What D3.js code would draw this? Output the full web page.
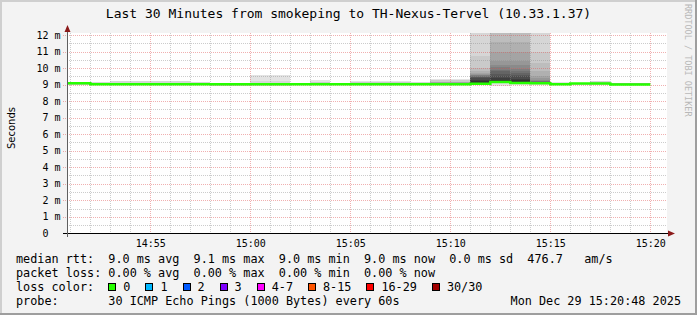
<!DOCTYPE html>
<html><head><meta charset="utf-8">
<script src="https://cdn.jsdelivr.net/npm/d3@7"></script>
<style>
html,body{margin:0;padding:0;background:#f3f3f3;}
svg{display:block;}
text{font-family:"DejaVu Sans Mono",monospace;white-space:pre;}
</style></head>
<body><svg id="c" width="697" height="315"></svg>
<script>
// ---------- data ----------
const minuteEnds = ["14:51","14:52","14:53","14:54","14:55","14:56","14:57","14:58","14:59","15:00",
  "15:01","15:02","15:03","15:04","15:05","15:06","15:07","15:08","15:09","15:10",
  "15:11","15:12","15:13","15:14","15:15","15:16","15:17","15:18","15:19","15:20"];
const medianRtt = [9.08,9.08,9.02,9.02,9.02,9.02,9.02,9.02,9.02,9.02,
  9.02,9.02,9.02,9.02,9.02,9.02,9.02,9.02,9.02,9.02,
  9.02,9.05,9.15,9.10,9.08,9.02,9.07,9.07,9.00,9.00];
const lossCount = [0,0,0,0,0,0,0,0,0,0,0,0,0,0,0,0,0,0,0,0,0,0,0,0,0,0,0,0,0,0];
// sorted ping rtts per minute (ms), as [value, count] runs (30 pings each)
const pingRuns = [
  [[8.96,3],[9.08,25],[9.1,2]],
  [[8.96,3],[9.08,25],[9.1,2]],
  [[8.99,2],[9.02,19],[9.12,7],[9.16,2]],
  [[8.99,2],[9.02,23],[9.12,3],[9.2,2]],
  [[8.99,2],[9.02,23],[9.12,3],[9.2,2]],
  [[8.99,2],[9.02,22],[9.12,4],[9.2,2]],
  [[8.99,2],[9.02,20],[9.12,6],[9.2,2]],
  [[8.99,2],[9.02,19],[9.12,7],[9.16,2]],
  [[8.9,2],[8.97,3],[9.02,25]],
  [[8.9,2],[8.97,3],[9.02,25]],
  [[8.9,1],[9.0,27],[9.2,1],[9.56,1]],
  [[8.9,1],[9.0,27],[9.2,1],[9.56,1]],
  [[8.99,2],[9.02,27],[9.08,1]],
  [[8.99,2],[9.02,25],[9.14,2],[9.26,1]],
  [[8.96,9],[9.02,21]],
  [[8.99,2],[9.02,25],[9.14,2],[9.24,1]],
  [[8.99,2],[9.02,25],[9.14,2],[9.24,1]],
  [[8.99,2],[9.02,25],[9.14,2],[9.24,1]],
  [[8.99,2],[9.02,21],[9.1,5],[9.16,2]],
  [[8.98,2],[9.02,22],[9.15,3],[9.25,2],[9.34,1]],
  [[8.98,2],[9.02,22],[9.15,3],[9.25,2],[9.34,1]],
  [[8.99,1],[9.02,12],[9.05,2],[9.2,1],[9.3,1],[9.4,1],[9.45,1],[9.47,1],[9.5,1],[9.55,1],[9.6,1],[9.65,1],[9.7,1],[9.85,1],[10.0,1],[10.7,1],[12.8,2]],
  [[8.9,1],[9.1,13],[9.15,1],[9.3,1],[9.4,1],[9.5,1],[9.65,1],[9.8,1],[9.9,1],[10.05,1],[10.2,1],[10.4,1],[11.0,1],[11.6,1],[13,4]],
  [[8.98,1],[9.05,13],[9.1,1],[9.25,1],[9.35,1],[9.5,1],[9.6,1],[9.7,1],[9.8,1],[9.95,1],[10.2,1],[10.4,1],[11.0,1],[11.6,1],[13,4]],
  [[8.98,1],[9.05,13],[9.08,1],[9.15,5],[9.2,2],[9.25,1],[9.38,1],[9.5,1],[9.8,1],[10.3,1],[11.0,1],[13,2]],
  [[8.99,2],[9.02,24],[9.1,3],[9.14,1]],
  [[8.99,2],[9.07,26],[9.1,2]],
  [[8.99,2],[9.07,24],[9.14,2],[9.2,2]],
  [[8.96,2],[9.0,22],[9.08,4],[9.12,2]],
  [[8.96,2],[9.0,22],[9.08,4],[9.12,2]]
];
const yTicks = [0,1,2,3,4,5,6,7,8,9,10,11,12];
const xTickLabels = ["14:55","15:00","15:05","15:10","15:15","15:20"];
const lossLabels = ["0","1","2","3","4-7","8-15","16-29","30/30"];
const lossColors = ["#26ff00","#00b8ff","#0059ff","#7e00ff","#ff00ff","#ff5500","#ff0000","#a10000"];
const titleText = "Last 30 Minutes from smokeping to TH-Nexus-Tervel (10.33.1.37)";
const statLines = [
  "median rtt:  9.0 ms avg  9.1 ms max  9.0 ms min  9.0 ms now  0.0 ms sd  476.7   am/s",
  "packet loss: 0.00 % avg  0.00 % max  0.00 % min  0.00 % now"
];
const probeText = "probe:       30 ICMP Echo Pings (1000 Bytes) every 60s";
const dateText = "Mon Dec 29 15:20:48 2025";
const day = "2025-12-29T";

// ---------- layout ----------
const svg = d3.select("#c");
const W = 697, H = 315;
const pl = 67, pr = 667, pt = 33, pb = 233.3;
const parse = s => new Date(day + s + ":00");
const t0 = new Date(day + "14:50:50"), t1 = new Date(day + "15:20:50");
const x = d3.scaleTime().domain([t0, t1]).range([pl, pr]);
const y = d3.scaleLinear().domain([0, 12.12]).range([pb, pt]);

// background + border
svg.append("rect").attr("width", W).attr("height", H).attr("fill", "#f3f3f3");
svg.append("rect").attr("x",0).attr("y",0).attr("width",W).attr("height",2).attr("fill","#cfcfcf");
svg.append("rect").attr("x",0).attr("y",0).attr("width",2).attr("height",H).attr("fill","#cfcfcf");
svg.append("rect").attr("x",W-2).attr("y",0).attr("width",2).attr("height",H).attr("fill","#9e9e9e");
svg.append("rect").attr("x",0).attr("y",H-2).attr("width",W).attr("height",2).attr("fill","#9e9e9e");

// canvas
svg.append("rect").attr("x", pl).attr("y", pt).attr("width", pr - pl).attr("height", pb - pt).attr("fill", "#fff");
svg.append("clipPath").attr("id","clip").append("rect").attr("x", pl).attr("y", pt).attr("width", pr-pl).attr("height", pb-pt);

// smoke
const half = 15;
const smoke = svg.append("g").attr("clip-path","url(#clip)").attr("shape-rendering","crispEdges");
pingRuns.forEach((runs, i) => {
  const pings = [];
  runs.forEach(([v, c]) => { for (let j = 0; j < c; j++) pings.push(v); });
  const te = parse(minuteEnds[i]);
  const ts = new Date(te.getTime() - 60000);
  for (let k = 1; k < half + 1; k++) {
    const lo = pings[k - 1], hi = pings[30 - k];
    if (hi <= lo) continue;
    const g = Math.floor(190 / half * (half - k)) + 50;
    smoke.append("rect")
      .attr("x", x(ts)).attr("width", x(te) - x(ts))
      .attr("y", y(hi)).attr("height", y(lo) - y(hi))
      .attr("fill", d3.rgb(g, g, g));
  }
});

// grid
const grid = svg.append("g").attr("shape-rendering","crispEdges");
const minorY = d3.range(0.5, 12.1, 1);
grid.selectAll(".hy").data(minorY).enter().append("line")
  .attr("x1", pl).attr("x2", pr).attr("y1", d => Math.round(y(d))+0.5).attr("y2", d => Math.round(y(d))+0.5)
  .attr("stroke", "rgba(143,143,143,0.45)").attr("stroke-dasharray","1,1");
const minuteTicks = x.ticks(d3.timeMinute.every(1));
grid.selectAll(".vx").data(minuteTicks.filter(d => d.getMinutes() % 5 !== 0)).enter().append("line")
  .attr("y1", pt).attr("y2", pb).attr("x1", d => Math.round(x(d))+0.5).attr("x2", d => Math.round(x(d))+0.5)
  .attr("stroke", "rgba(143,143,143,0.45)").attr("stroke-dasharray","1,1");
grid.selectAll(".my").data(yTicks.filter(d => d > 0)).enter().append("line")
  .attr("x1", pl - 4).attr("x2", pr).attr("y1", d => Math.round(y(d))+0.5).attr("y2", d => Math.round(y(d))+0.5)
  .attr("stroke", "rgba(222,80,80,0.45)").attr("stroke-dasharray","1,1");
const majorX = xTickLabels.map(parse);
grid.selectAll(".mx").data(majorX).enter().append("line")
  .attr("y1", pt).attr("y2", pb).attr("x1", d => Math.round(x(d))+0.5).attr("x2", d => Math.round(x(d))+0.5)
  .attr("stroke", "rgba(222,80,80,0.45)").attr("stroke-dasharray","1,1");

// median line
const pts = [];
medianRtt.forEach((m, i) => {
  const te = parse(minuteEnds[i]);
  pts.push([new Date(te.getTime() - 60000), m], [te, m]);
});
svg.append("path").attr("clip-path","url(#clip)")
  .attr("d", d3.line().x(d => x(d[0])).y(d => y(d[1]))(pts))
  .attr("fill","none").attr("stroke", lossColors[0]).attr("stroke-width", 2.5);

// axes
svg.append("line").attr("x1", pl - 4).attr("x2", pr + 2).attr("y1", 233.5).attr("y2", 233.5)
  .attr("stroke", "#000").attr("shape-rendering","crispEdges");
svg.append("line").attr("x1", 67.5).attr("x2", 67.5).attr("y1", 237).attr("y2", 29)
  .attr("stroke", "#606060").attr("shape-rendering","crispEdges");
svg.append("path").attr("d", "M64.5,32 L70.5,32 L67.5,25 Z").attr("fill", "#8b1a1a");
svg.append("path").attr("d", "M668,230.5 L668,236.5 L675,233.5 Z").attr("fill", "#8b1a1a");

// y tick labels
svg.selectAll(".yl").data(yTicks).enter().append("text")
  .attr("x", 60.5).attr("y", d => y(d) + 3.6).attr("text-anchor","end")
  .attr("font-size", "10px").attr("fill","#000")
  .text(d => d === 0 ? "0  " : d + " m");
// x tick labels
svg.selectAll(".xl").data(xTickLabels).enter().append("text")
  .attr("x", d => x(parse(d)) + 0.5).attr("y", 246.5).attr("text-anchor","middle")
  .attr("font-size", "10px").attr("fill","#000").text(d => d);

// title
svg.append("text").attr("x", 348.5).attr("y", 17.5).attr("text-anchor","middle")
  .attr("font-size","13px").attr("fill","#000").text(titleText);
// y axis title
svg.append("text").attr("transform","translate(14.5,128) rotate(-90)").attr("text-anchor","middle")
  .style("font-family","'DejaVu Sans',sans-serif").attr("font-size","10px").attr("fill","#000").text("Seconds");
// watermark
svg.append("text").attr("transform","translate(684.5,4) rotate(90)").attr("text-anchor","start")
  .attr("font-size","8.5px").attr("fill","#b8b8b8").text("RRDTOOL / TOBI OETIKER");

// legend
const lx = 16, cw = 7.1, lf = "11.8px";
const base = [263, 277, 291, 304.5];
statLines.forEach((s, i) => svg.append("text").attr("x", lx).attr("y", base[i]).attr("font-size", lf).attr("fill","#000").text(s));
svg.append("text").attr("x", lx).attr("y", base[2]).attr("font-size", lf).attr("fill","#000").text("loss color:");
let bx = lx + 13 * cw;
lossLabels.forEach((lab, i) => {
  svg.append("rect").attr("x", Math.round(bx) + 0.5).attr("y", 283.5).attr("width", 7).attr("height", 7)
    .attr("fill", lossColors[i]).attr("stroke", "#000").attr("stroke-width", 1);
  const tx = bx + 15;
  svg.append("text").attr("x", tx).attr("y", base[2]).attr("font-size", lf).attr("fill","#000").text(lab);
  bx = tx + lab.length * cw + 15;
});
svg.append("text").attr("x", lx).attr("y", base[3]).attr("font-size", lf).attr("fill","#000").text(probeText);
svg.append("text").attr("x", 681).attr("y", base[3]).attr("text-anchor","end").attr("font-size", lf).attr("fill","#000").text(dateText);
</script></body></html>
